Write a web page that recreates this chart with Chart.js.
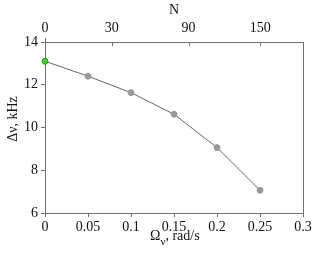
<!DOCTYPE html>
<html><head><meta charset="utf-8">
<script src="https://cdn.jsdelivr.net/npm/chart.js@4"></script>
<style>html,body{margin:0;padding:0;background:#fff}#w{width:316px;height:254px}</style>
</head><body><div id="w"><canvas id="c" width="316" height="254"></canvas></div>
<script>
const omega = [0, 0.05, 0.1, 0.15, 0.2, 0.25];
const deltaNu = [13.1, 12.4, 11.63, 10.62, 9.06, 7.06];
const nLabels = ['0', '30', '90', '150'];
const nPositions = [0, 0.0776, 0.1669, 0.2503];
const FONT = 'Liberation Serif';
const AX = '#707070';
const TX = '#111';

const overlay = {
  id: 'overlay',
  afterDraw(chart) {
    const ctx = chart.ctx, a = chart.chartArea;
    const x2 = chart.scales.x2;
    ctx.save();
    ctx.strokeStyle = AX; ctx.lineWidth = 1;
    ctx.beginPath();
    const r = Math.round(a.right) + 0.5;
    ctx.moveTo(r, a.top); ctx.lineTo(r, a.bottom);
    nPositions.forEach((v, i) => {
      const px = Math.round(x2.getPixelForValue(v)) + 0.5;
      ctx.moveTo(px, i === 0 ? a.top - 4 : a.top); ctx.lineTo(px, a.top + 4);
    });
    ctx.stroke();
    ctx.fillStyle = TX;
    ctx.font = '14px "' + FONT + '"';
    ctx.textBaseline = 'alphabetic';
    let x = 150, y = 240;
    ctx.fillText('\u03A9', x, y); x += ctx.measureText('\u03A9').width;
    ctx.font = '11px "' + FONT + '"';
    ctx.fillText('\u03BD', x, y + 5); x += ctx.measureText('\u03BD').width;
    ctx.font = '14px "' + FONT + '"';
    ctx.fillText(', rad/s', x, y);
    ctx.translate(17, 119);
    ctx.rotate(-Math.PI / 2);
    ctx.textAlign = 'center';
    ctx.fillText('\u0394\u03BD, kHz', 0, 0);
    ctx.restore();
  }
};

new Chart(document.getElementById('c'), {
  type: 'line',
  data: {
    datasets: [{
      data: omega.map((v, i) => ({ x: v, y: deltaNu[i] })),
      borderColor: '#666', borderWidth: 1,
      pointRadius: 3, pointHoverRadius: 3,
      pointBackgroundColor: ctx => ctx.dataIndex === 0 ? '#3ecf2a' : '#9a9a9a',
      pointBorderColor: ctx => ctx.dataIndex === 0 ? '#2a9a1a' : '#9a9a9a',
      pointBorderWidth: 1,
      clip: false,
      tension: 0, fill: false
    }]
  },
  options: {
    responsive: false, animation: false,
    layout: { padding: { left: 0, right: 13, top: 0, bottom: 0 } },
    plugins: { legend: { display: false }, tooltip: { enabled: false } },
    scales: {
      x: {
        type: 'linear', position: 'bottom', min: 0, max: 0.3,
        afterBuildTicks: s => { s.ticks = [0, 0.05, 0.1, 0.15, 0.2, 0.25, 0.3].map(v => ({ value: v })); },
        afterFit: s => { s.height = 41; },
        grid: { drawOnChartArea: false, drawTicks: true, tickLength: 4, color: AX },
        border: { color: AX },
        ticks: { autoSkip: false, maxRotation: 0, padding: 2, color: TX, font: { family: FONT, size: 14 }, callback: v => String(v) }
      },
      x2: {
        type: 'linear', position: 'top', min: 0, max: 0.3,
        afterBuildTicks: s => { s.ticks = nPositions.map(v => ({ value: v })); },
        afterFit: s => { s.height = 42; },
        grid: { drawOnChartArea: false, drawTicks: false },
        border: { color: AX },
        title: { display: true, text: 'N', color: TX, font: { family: FONT, size: 14 }, padding: { top: 2, bottom: 0 } },
        ticks: { autoSkip: false, maxRotation: 0, padding: 5, color: TX, font: { family: FONT, size: 14 }, callback: (v, i) => nLabels[i] }
      },
      y: {
        type: 'linear', min: 6, max: 14,
        afterBuildTicks: s => { s.ticks = [6, 8, 10, 12, 14].map(v => ({ value: v })); },
        afterFit: s => { s.width = 45; },
        grid: { drawOnChartArea: false, drawTicks: true, tickLength: 4, color: AX },
        border: { color: AX },
        ticks: { padding: 3, color: TX, font: { family: FONT, size: 14 } }
      }
    }
  },
  plugins: [overlay]
});
</script>
</body></html>
